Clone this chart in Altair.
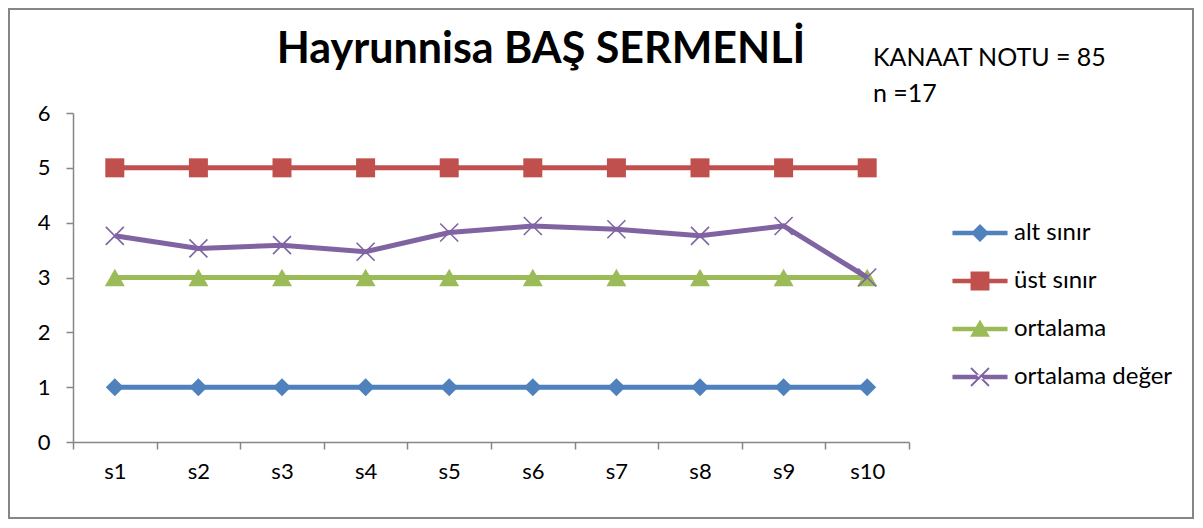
import altair as alt
import pandas as pd

# ---- data ----
categories = ["s1", "s2", "s3", "s4", "s5", "s6", "s7", "s8", "s9", "s10"]
series_names = ["alt sınır", "üst sınır", "ortalama", "ortalama değer"]
alt_sinir = [1, 1, 1, 1, 1, 1, 1, 1, 1, 1]
ust_sinir = [5, 5, 5, 5, 5, 5, 5, 5, 5, 5]
ortalama = [3, 3, 3, 3, 3, 3, 3, 3, 3, 3]
ortalama_deger = [3.76, 3.53, 3.59, 3.47, 3.82, 3.94, 3.88, 3.76, 3.94, 3.0]
y_ticks = [0, 1, 2, 3, 4, 5, 6]

colors = ["#4F81BD", "#C0504D", "#9BBB59", "#8064A2"]
title_text = "Hayrunnisa BAŞ SERMENLİ"
note1 = "KANAAT NOTU = 85"
note2 = "n =17"

values = [alt_sinir, ust_sinir, ortalama, ortalama_deger]
rows = []
for name, vals in zip(series_names, values):
    for c, v in zip(categories, vals):
        rows.append({"kategori": c, "deger": v, "seri": name})
df = pd.DataFrame(rows)

FONT = "Lato"
AXIS_GRAY = "#868686"

x_enc = alt.X(
    "kategori:N",
    sort=categories,
    scale=alt.Scale(type="band", domain=categories, paddingInner=0, paddingOuter=0),
    axis=alt.Axis(
        title=None, labelAngle=0, tickBand="extent", tickSize=7,
        labelPadding=12, labelFont=FONT, labelFontSize=22, labelColor="black",
        domainColor=AXIS_GRAY, tickColor=AXIS_GRAY, domainWidth=1.5, tickWidth=1.5,
    ),
)
y_enc = alt.Y(
    "deger:Q",
    scale=alt.Scale(domain=[0, 6], nice=False, zero=True),
    axis=alt.Axis(
        title=None, values=y_ticks, grid=False, tickSize=7, labelPadding=16,
        labelFont=FONT, labelFontSize=22, labelColor="black",
        domainColor=AXIS_GRAY, tickColor=AXIS_GRAY, domainWidth=1.5, tickWidth=1.5,
    ),
)

layers = []

# chart frame
frame = alt.Chart(alt.Data(values=[{}])).mark_rect(
    filled=False, stroke=AXIS_GRAY, strokeWidth=2
).encode(x=alt.value(-64), x2=alt.value(1120), y=alt.value(-104), y2=alt.value(405))
layers.append(frame)

marker_specs = [
    dict(shape="diamond", filled=True, size=324),
    dict(shape="square", filled=True, size=361),
    dict(shape="triangle-up", filled=True, size=400),
    dict(shape="M-1,-1L1,1M-1,1L1,-1", filled=False, size=324, strokeWidth=1.6),
]

for name, col, ms in zip(series_names, colors, marker_specs):
    sub = alt.Chart(df).transform_filter(alt.datum.seri == name)
    line = sub.mark_line(color=col, strokeWidth=5).encode(x=x_enc, y=y_enc)
    pts = sub.mark_point(color=col, opacity=1, **ms).encode(x=x_enc, y=y_enc)
    layers += [line, pts]

# legend (line + marker symbols)
legend_paths = [
    "M-3.06,-0.26H3.06V0.26H-3.06Z M0,-1L1,0L0,1L-1,0Z",
    "M-3.06,-0.26H3.06V0.26H-3.06Z M-1.05,-1.05H1.05V1.05H-1.05Z",
    "M-3.06,-0.26H3.06V0.26H-3.06Z M0,-1.05L1.1,0.85H-1.1Z",
    "M-3.06,-0.26H3.06V0.26H-3.06Z M-1.07,-0.93L0.93,1.07L1.07,0.93L-0.93,-1.07Z M-1.07,0.93L0.93,-1.07L1.07,-0.93L-0.93,1.07Z",
]
leg = alt.Legend(
    orient="none", legendX=895, legendY=108, title=None, padding=0,
    labelFont=FONT, labelFontSize=24, labelColor="black", labelOffset=22,
    symbolSize=324, symbolStrokeWidth=0, rowPadding=24,
)
legend_layer = alt.Chart(df).transform_filter("false").mark_point(filled=True, opacity=1).encode(
    color=alt.Color("seri:N", scale=alt.Scale(domain=series_names, range=colors), legend=leg),
    shape=alt.Shape("seri:N", scale=alt.Scale(domain=series_names, range=legend_paths), legend=leg),
)
layers.append(legend_layer)

# texts
title_mark = alt.Chart(alt.Data(values=[{"t": title_text}])).mark_text(
    font=FONT, fontSize=43, fontWeight="bold", align="center", baseline="alphabetic", color="black"
).encode(text="t:N", x=alt.value(468), y=alt.value(-50))
note_mark1 = alt.Chart(alt.Data(values=[{"t": note1}])).mark_text(
    font=FONT, fontSize=25, align="left", baseline="alphabetic", color="black"
).encode(text="t:N", x=alt.value(800), y=alt.value(-47))
note_mark2 = alt.Chart(alt.Data(values=[{"t": note2}])).mark_text(
    font=FONT, fontSize=25, align="left", baseline="alphabetic", color="black"
).encode(text="t:N", x=alt.value(800), y=alt.value(-11))
layers += [title_mark, note_mark1, note_mark2]

chart = alt.layer(*layers).properties(
    width=836, height=329,
    autosize=alt.AutoSizeParams(type="none"),
    padding={"left": 65, "top": 105, "right": 285, "bottom": 77},
    background="white",
).configure_view(stroke=None)

chart.save("out.html", embed_options={"renderer": "svg", "actions": False})
